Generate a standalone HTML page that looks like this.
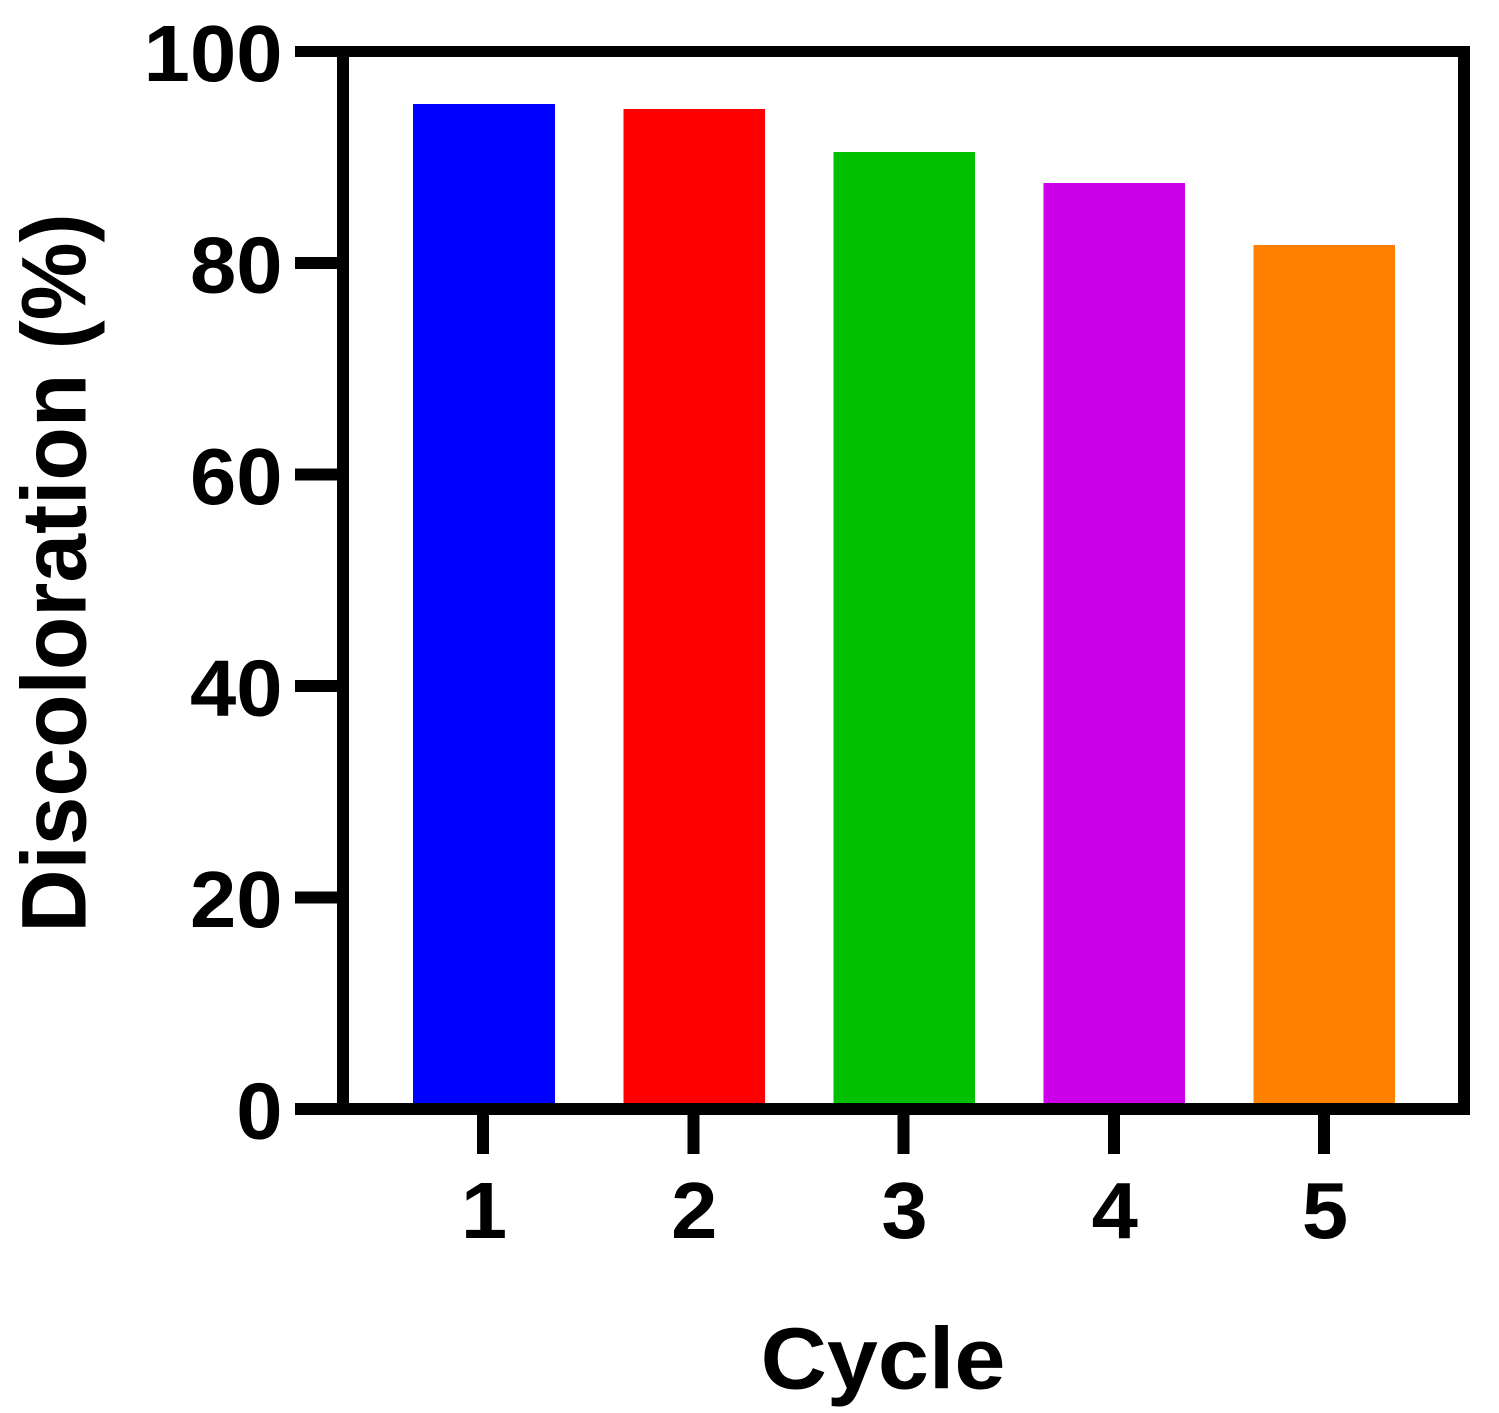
<!DOCTYPE html>
<html>
<head>
<meta charset="utf-8">
<style>
html,body{margin:0;padding:0;background:#fff;width:1499px;height:1413px;overflow:hidden}
svg{display:block}
text{font-family:"Liberation Sans",Arial,sans-serif;font-weight:700;fill:#000}
</style>
</head>
<body>
<svg id="chart" width="1499" height="1413" viewBox="0 0 1499 1413" xmlns="http://www.w3.org/2000/svg"></svg>
<script>
const categories = ['1', '2', '3', '4', '5'];
const values = [95.04, 94.56, 90.5, 87.56, 81.7];
const barColors = ['#0000ff', '#ff0000', '#00c000', '#cc00e8', '#ff8000'];
const yTicks = [0, 20, 40, 60, 80, 100];
const xTitle = 'Cycle';
const yTitle = 'Discoloration (%)';

const svg = document.getElementById('chart');
const NS = 'http://www.w3.org/2000/svg';
const plot = {left: 343, right: 1464, top: 51.5, bottom: 1109};
const yDomainMax = 100;
const stretchX = 1.04;
const titleStretchX = 1.055;
function yScale(v) { return plot.bottom - (v / yDomainMax) * (plot.bottom - plot.top); }
function xScale(i) { return 484 + i * 210.1; }
function xTickScale(i) { return 483 + i * 210.25; }
const barWidth = 141.6;
function make(tag, attrs) {
  const el = document.createElementNS(NS, tag);
  for (const k in attrs) el.setAttribute(k, attrs[k]);
  return el;
}

categories.forEach(function (c, i) {
  const top = yScale(values[i]);
  const bar = make('rect', {x: xScale(i) - barWidth / 2, y: top, width: barWidth, height: plot.bottom - top, fill: barColors[i], 'shape-rendering': 'crispEdges'});
  
  
  svg.appendChild(bar);
});

const topEdge = make('rect', {x: plot.left - 6, y: plot.top - 5.5, width: plot.right - plot.left + 12, height: 11, fill: '#000', 'shape-rendering': 'crispEdges'});


svg.appendChild(topEdge);

const leftEdge = make('rect', {x: plot.left - 6, y: plot.top - 5.5, width: 12, height: plot.bottom - plot.top + 11.5, fill: '#000', 'shape-rendering': 'crispEdges'});


svg.appendChild(leftEdge);

const rightEdge = make('rect', {x: plot.right - 6, y: plot.top - 5.5, width: 12, height: plot.bottom - plot.top + 11.5, fill: '#000', 'shape-rendering': 'crispEdges'});


svg.appendChild(rightEdge);

const bottomEdge = make('rect', {x: plot.left - 6, y: plot.bottom - 6, width: plot.right - plot.left + 12, height: 12, fill: '#000', 'shape-rendering': 'crispEdges'});


svg.appendChild(bottomEdge);

yTicks.forEach(function (t) {
  const y = yScale(t);
  const h = t === yDomainMax ? 11 : 12;
  const tick = make('rect', {x: 295, y: y - h / 2, width: plot.left - 295, height: h, fill: '#000', 'shape-rendering': 'crispEdges'});
  
  
  svg.appendChild(tick);
  const label = make('text', {'text-anchor': 'end', 'font-size': 80, transform: 'translate(282.5 ' + (y + 29.5) + ') scale(' + stretchX + ' 1)'});
  
  
  label.textContent = t;
  svg.appendChild(label);
});

categories.forEach(function (c, i) {
  const x = xTickScale(i);
  const tick = make('rect', {x: x - 6, y: plot.bottom, width: 12, height: 1154 - plot.bottom, fill: '#000', 'shape-rendering': 'crispEdges'});
  
  
  svg.appendChild(tick);
  const label = make('text', {'text-anchor': 'middle', 'font-size': 80, transform: 'translate(' + (x + 1) + ' 1238) scale(' + stretchX + ' 1)'});
  
  
  label.textContent = c;
  svg.appendChild(label);
});

const xt = make('text', {'text-anchor': 'middle', 'font-size': 87, transform: 'translate(883 1388.5) scale(' + titleStretchX + ' 1)'});


xt.textContent = xTitle;
svg.appendChild(xt);

const yt = make('text', {'text-anchor': 'middle', 'font-size': 87.5, transform: 'translate(85.5 573) scale(' + titleStretchX + ' 1) rotate(-90)'});


yt.textContent = yTitle;
svg.appendChild(yt);
</script>
</body>
</html>
